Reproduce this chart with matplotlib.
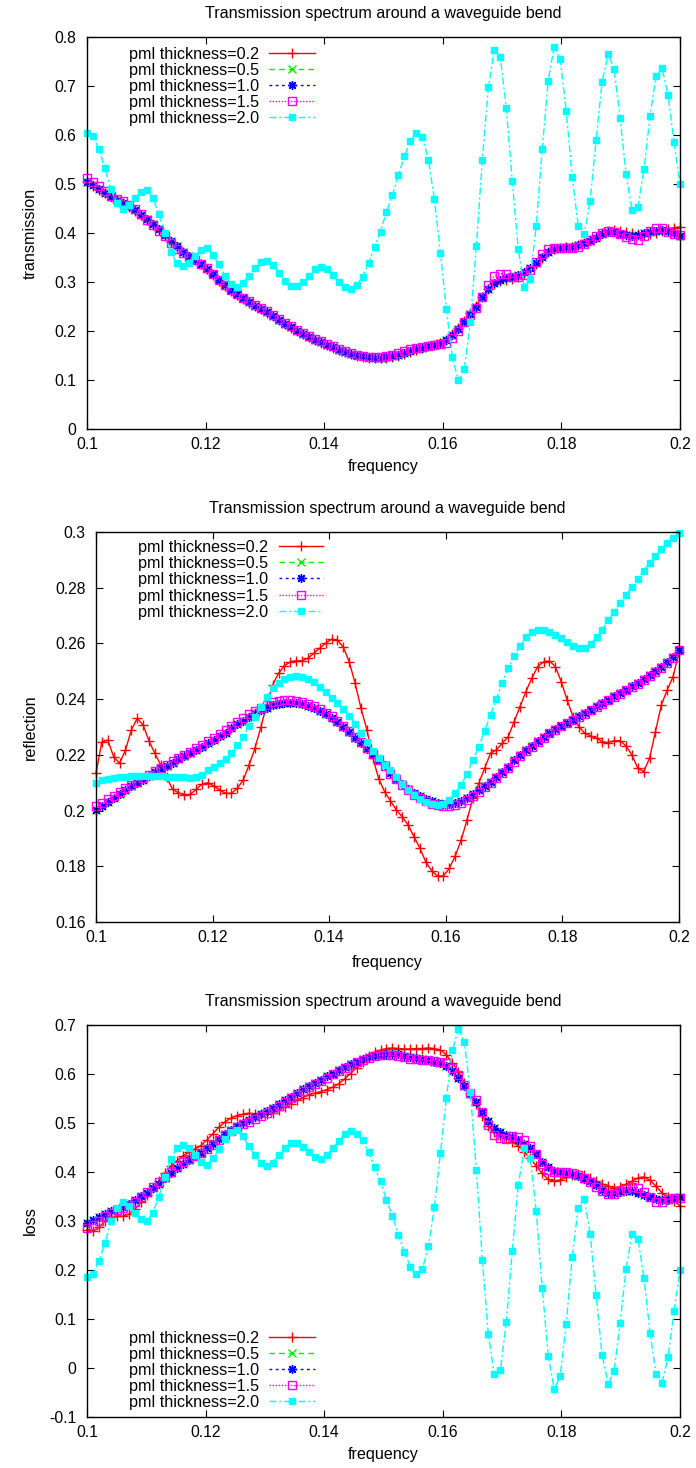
import matplotlib
matplotlib.use("Agg")
import matplotlib.pyplot as plt
import numpy as np
from matplotlib.ticker import FormatStrFormatter, MultipleLocator

plt.rcParams["font.family"] = ["Liberation Sans", "DejaVu Sans"]
plt.rcParams["font.size"] = 11.3

# 100 frequency points from 0.1 to 0.2
freq = np.linspace(0.1, 0.2, 100)

labels = ["pml thickness=0.2", "pml thickness=0.5", "pml thickness=1.0",
          "pml thickness=1.5", "pml thickness=2.0"]

# --- transmission ---
trans_02 = [
    0.505, 0.496, 0.488, 0.481, 0.475, 0.468, 0.461, 0.453, 0.445, 0.436,
    0.427, 0.417, 0.406, 0.394, 0.382, 0.371, 0.361, 0.352, 0.344, 0.336,
    0.326, 0.315, 0.303, 0.292, 0.282, 0.274, 0.266, 0.258, 0.251, 0.244,
    0.237, 0.230, 0.222, 0.214, 0.207, 0.200, 0.193, 0.187, 0.181, 0.176,
    0.171, 0.166, 0.161, 0.157, 0.153, 0.150, 0.147, 0.145, 0.144, 0.144,
    0.145, 0.147, 0.150, 0.154, 0.158, 0.162, 0.166, 0.169, 0.172, 0.175,
    0.182, 0.193, 0.206, 0.221, 0.236, 0.252, 0.270, 0.285, 0.296, 0.302,
    0.305, 0.307, 0.310, 0.316, 0.325, 0.336, 0.350, 0.361, 0.367, 0.370,
    0.371, 0.372, 0.375, 0.379, 0.385, 0.392, 0.399, 0.405, 0.407, 0.405,
    0.402, 0.399, 0.397, 0.396, 0.398, 0.401, 0.405, 0.408, 0.411, 0.412]
trans_10 = [
    0.505, 0.497, 0.489, 0.481, 0.474, 0.468, 0.462, 0.455, 0.447, 0.437,
    0.428, 0.418, 0.408, 0.396, 0.384, 0.373, 0.362, 0.353, 0.345, 0.337,
    0.327, 0.316, 0.304, 0.293, 0.283, 0.275, 0.267, 0.259, 0.252, 0.245,
    0.238, 0.231, 0.223, 0.215, 0.208, 0.201, 0.194, 0.188, 0.182, 0.177,
    0.172, 0.167, 0.162, 0.158, 0.154, 0.151, 0.148, 0.146, 0.145, 0.145,
    0.146, 0.148, 0.151, 0.155, 0.159, 0.163, 0.166, 0.169, 0.172, 0.175,
    0.181, 0.191, 0.204, 0.219, 0.234, 0.250, 0.269, 0.285, 0.298, 0.304,
    0.308, 0.311, 0.315, 0.320, 0.328, 0.338, 0.352, 0.362, 0.368, 0.370,
    0.371, 0.372, 0.375, 0.379, 0.383, 0.390, 0.398, 0.402, 0.402, 0.398,
    0.395, 0.394, 0.396, 0.400, 0.403, 0.405, 0.406, 0.404, 0.399, 0.394]
trans_05 = list(trans_10)  # hidden under the 1.0 curve everywhere
trans_15 = [
    0.513, 0.505, 0.495, 0.485, 0.476, 0.470, 0.465, 0.458, 0.449, 0.438,
    0.427, 0.416, 0.405, 0.393, 0.380, 0.368, 0.359, 0.351, 0.344, 0.337,
    0.328, 0.317, 0.305, 0.294, 0.284, 0.276, 0.268, 0.261, 0.254, 0.247,
    0.240, 0.233, 0.225, 0.217, 0.210, 0.203, 0.196, 0.190, 0.184, 0.179,
    0.174, 0.169, 0.164, 0.160, 0.156, 0.152, 0.149, 0.147, 0.146, 0.146,
    0.148, 0.151, 0.155, 0.159, 0.163, 0.166, 0.168, 0.170, 0.171, 0.173,
    0.176, 0.185, 0.199, 0.218, 0.233, 0.246, 0.270, 0.294, 0.312, 0.317,
    0.317, 0.310, 0.310, 0.314, 0.324, 0.340, 0.358, 0.367, 0.370, 0.370,
    0.369, 0.370, 0.372, 0.377, 0.385, 0.394, 0.400, 0.405, 0.403, 0.397,
    0.392, 0.387, 0.386, 0.393, 0.404, 0.411, 0.411, 0.403, 0.398, 0.396]
trans_20 = [
    0.605, 0.598, 0.571, 0.532, 0.489, 0.461, 0.450, 0.457, 0.471, 0.484,
    0.488, 0.471, 0.438, 0.399, 0.362, 0.338, 0.333, 0.339, 0.353, 0.365,
    0.369, 0.355, 0.336, 0.313, 0.296, 0.289, 0.297, 0.313, 0.329, 0.341,
    0.343, 0.335, 0.319, 0.302, 0.292, 0.292, 0.301, 0.313, 0.326, 0.331,
    0.326, 0.314, 0.301, 0.289, 0.285, 0.294, 0.311, 0.338, 0.371, 0.403,
    0.443, 0.478, 0.518, 0.557, 0.588, 0.605, 0.595, 0.550, 0.469, 0.360,
    0.244, 0.146, 0.099, 0.122, 0.219, 0.373, 0.550, 0.697, 0.773, 0.759,
    0.656, 0.506, 0.367, 0.290, 0.307, 0.415, 0.571, 0.711, 0.780, 0.755,
    0.650, 0.515, 0.415, 0.397, 0.466, 0.590, 0.709, 0.765, 0.735, 0.635,
    0.520, 0.447, 0.454, 0.531, 0.639, 0.720, 0.737, 0.682, 0.586, 0.501]

# --- reflection ---
refl_02 = [
    0.2134, 0.2247, 0.2253, 0.2193, 0.2170, 0.2217, 0.2289, 0.2331, 0.2307, 0.2250,
    0.2205, 0.2164, 0.2120, 0.2076, 0.2064, 0.2056, 0.2058, 0.2076, 0.2095, 0.2100,
    0.2088, 0.2074, 0.2062, 0.2062, 0.2080, 0.2110, 0.2164, 0.2224, 0.2300, 0.2380,
    0.2451, 0.2493, 0.2520, 0.2534, 0.2538, 0.2538, 0.2547, 0.2565, 0.2583, 0.2601,
    0.2615, 0.2612, 0.2586, 0.2534, 0.2457, 0.2367, 0.2290, 0.2190, 0.2115, 0.2068,
    0.2035, 0.2002, 0.1978, 0.1948, 0.1906, 0.1865, 0.1816, 0.1784, 0.1765, 0.1765,
    0.1793, 0.1837, 0.1894, 0.1966, 0.2044, 0.2098, 0.2152, 0.2206, 0.2218, 0.2242,
    0.2265, 0.2319, 0.2373, 0.2427, 0.2475, 0.2517, 0.2534, 0.2537, 0.2517, 0.2463,
    0.2397, 0.2337, 0.2301, 0.2277, 0.2268, 0.2259, 0.2247, 0.2244, 0.2251, 0.2251,
    0.2232, 0.2200, 0.2152, 0.2140, 0.2188, 0.2283, 0.2379, 0.2433, 0.2481, 0.2570]
refl_10 = [
    0.2002, 0.2015, 0.2030, 0.2045, 0.2060, 0.2074, 0.2087, 0.2098, 0.2110, 0.2124,
    0.2138, 0.2150, 0.2161, 0.2172, 0.2184, 0.2195, 0.2206, 0.2218, 0.2230, 0.2241,
    0.2254, 0.2267, 0.2280, 0.2295, 0.2310, 0.2323, 0.2337, 0.2350, 0.2360, 0.2370,
    0.2378, 0.2383, 0.2386, 0.2387, 0.2385, 0.2381, 0.2375, 0.2367, 0.2357, 0.2346,
    0.2333, 0.2318, 0.2300, 0.2281, 0.2262, 0.2242, 0.2222, 0.2202, 0.2182, 0.2162,
    0.2135, 0.2115, 0.2095, 0.2078, 0.2063, 0.2051, 0.2041, 0.2033, 0.2028, 0.2025,
    0.2025, 0.2028, 0.2035, 0.2045, 0.2058, 0.2073, 0.2089, 0.2104, 0.2120, 0.2138,
    0.2158, 0.2180, 0.2200, 0.2217, 0.2233, 0.2248, 0.2265, 0.2280, 0.2294, 0.2305,
    0.2315, 0.2326, 0.2338, 0.2350, 0.2362, 0.2374, 0.2386, 0.2398, 0.2410, 0.2422,
    0.2434, 0.2446, 0.2458, 0.2471, 0.2485, 0.2500, 0.2515, 0.2532, 0.2550, 0.2577]
refl_05 = list(refl_10)
refl_15 = [
    0.2015, 0.2026, 0.2040, 0.2054, 0.2068, 0.2081, 0.2093, 0.2104, 0.2116, 0.2129,
    0.2142, 0.2154, 0.2165, 0.2177, 0.2189, 0.2200, 0.2212, 0.2224, 0.2236, 0.2248,
    0.2261, 0.2274, 0.2288, 0.2303, 0.2318, 0.2332, 0.2346, 0.2359, 0.2370, 0.2380,
    0.2388, 0.2393, 0.2396, 0.2397, 0.2395, 0.2391, 0.2384, 0.2375, 0.2364, 0.2352,
    0.2338, 0.2322, 0.2304, 0.2285, 0.2265, 0.2245, 0.2224, 0.2203, 0.2182, 0.2161,
    0.2133, 0.2112, 0.2091, 0.2073, 0.2057, 0.2044, 0.2033, 0.2025, 0.2019, 0.2016,
    0.2016, 0.2020, 0.2028, 0.2039, 0.2052, 0.2067, 0.2083, 0.2099, 0.2116, 0.2134,
    0.2154, 0.2175, 0.2195, 0.2213, 0.2229, 0.2245, 0.2262, 0.2277, 0.2291, 0.2303,
    0.2313, 0.2324, 0.2336, 0.2348, 0.2360, 0.2372, 0.2384, 0.2396, 0.2408, 0.2420,
    0.2432, 0.2444, 0.2456, 0.2469, 0.2483, 0.2498, 0.2513, 0.2530, 0.2548, 0.2575]
refl_20 = [
    0.2098, 0.2108, 0.2114, 0.2118, 0.2121, 0.2122, 0.2123, 0.2124, 0.2124, 0.2124,
    0.2124, 0.2123, 0.2122, 0.2121, 0.2120, 0.2119, 0.2118, 0.2120, 0.2127, 0.2145,
    0.2158, 0.2170, 0.2185, 0.2205, 0.2235, 0.2265, 0.2305, 0.2337, 0.2373, 0.2409,
    0.2439, 0.2457, 0.2471, 0.2480, 0.2483, 0.2481, 0.2473, 0.2462, 0.2444, 0.2425,
    0.2405, 0.2385, 0.2365, 0.2340, 0.2312, 0.2280, 0.2245, 0.2215, 0.2188, 0.2165,
    0.2145, 0.2120, 0.2096, 0.2074, 0.2055, 0.2040, 0.2030, 0.2024, 0.2021, 0.2024,
    0.2038, 0.2064, 0.2092, 0.2131, 0.2182, 0.2229, 0.2287, 0.2343, 0.2401, 0.2459,
    0.2511, 0.2555, 0.2591, 0.2622, 0.2642, 0.2648, 0.2648, 0.2640, 0.2630, 0.2618,
    0.2604, 0.2592, 0.2584, 0.2584, 0.2598, 0.2622, 0.2650, 0.2683, 0.2714, 0.2744,
    0.2774, 0.2803, 0.2832, 0.2860, 0.2888, 0.2915, 0.2940, 0.2960, 0.2978, 0.2996]

# --- loss ---
loss_02 = [
    0.282, 0.279, 0.287, 0.300, 0.308, 0.310, 0.310, 0.314, 0.324, 0.339,
    0.353, 0.367, 0.382, 0.398, 0.412, 0.423, 0.433, 0.440, 0.447, 0.454,
    0.465, 0.478, 0.491, 0.502, 0.510, 0.515, 0.518, 0.520, 0.519, 0.518,
    0.518, 0.521, 0.526, 0.533, 0.539, 0.546, 0.552, 0.557, 0.561, 0.564,
    0.568, 0.573, 0.580, 0.590, 0.601, 0.613, 0.624, 0.636, 0.645, 0.649,
    0.652, 0.653, 0.652, 0.651, 0.651, 0.652, 0.652, 0.653, 0.652, 0.649,
    0.639, 0.623, 0.605, 0.582, 0.560, 0.538, 0.515, 0.494, 0.482, 0.474,
    0.469, 0.461, 0.453, 0.441, 0.428, 0.412, 0.397, 0.385, 0.381, 0.384,
    0.389, 0.394, 0.395, 0.393, 0.388, 0.382, 0.376, 0.371, 0.368, 0.370,
    0.375, 0.381, 0.388, 0.390, 0.383, 0.371, 0.357, 0.349, 0.341, 0.331]
loss_10 = [
    0.295, 0.302, 0.308, 0.315, 0.320, 0.325, 0.329, 0.335, 0.342, 0.351,
    0.358, 0.367, 0.376, 0.387, 0.398, 0.408, 0.417, 0.425, 0.432, 0.439,
    0.448, 0.457, 0.468, 0.478, 0.486, 0.493, 0.499, 0.506, 0.512, 0.518,
    0.524, 0.531, 0.538, 0.546, 0.554, 0.561, 0.569, 0.575, 0.582, 0.588,
    0.595, 0.601, 0.608, 0.614, 0.620, 0.625, 0.630, 0.634, 0.637, 0.639,
    0.640, 0.640, 0.640, 0.637, 0.635, 0.632, 0.630, 0.628, 0.625, 0.622,
    0.616, 0.606, 0.592, 0.576, 0.560, 0.543, 0.522, 0.505, 0.490, 0.482,
    0.476, 0.471, 0.465, 0.458, 0.449, 0.437, 0.421, 0.410, 0.403, 0.400,
    0.398, 0.395, 0.391, 0.386, 0.381, 0.373, 0.363, 0.358, 0.357, 0.360,
    0.362, 0.361, 0.358, 0.353, 0.349, 0.345, 0.343, 0.343, 0.346, 0.348]
loss_05 = list(loss_10)
loss_15 = [
    0.286, 0.292, 0.301, 0.310, 0.317, 0.322, 0.326, 0.332, 0.339, 0.349,
    0.359, 0.369, 0.379, 0.389, 0.401, 0.412, 0.420, 0.427, 0.432, 0.438,
    0.446, 0.456, 0.466, 0.476, 0.484, 0.491, 0.497, 0.503, 0.509, 0.515,
    0.521, 0.528, 0.535, 0.543, 0.551, 0.558, 0.566, 0.573, 0.580, 0.586,
    0.592, 0.599, 0.606, 0.612, 0.618, 0.624, 0.629, 0.633, 0.636, 0.638,
    0.639, 0.638, 0.636, 0.634, 0.631, 0.630, 0.629, 0.628, 0.627, 0.625,
    0.622, 0.613, 0.598, 0.578, 0.562, 0.547, 0.522, 0.496, 0.476, 0.470,
    0.468, 0.473, 0.471, 0.465, 0.453, 0.436, 0.416, 0.405, 0.401, 0.400,
    0.400, 0.398, 0.394, 0.388, 0.379, 0.369, 0.362, 0.355, 0.356, 0.361,
    0.365, 0.369, 0.368, 0.360, 0.348, 0.339, 0.338, 0.344, 0.347, 0.347]
loss_20 = [
    0.185, 0.191, 0.218, 0.256, 0.299, 0.327, 0.338, 0.331, 0.317, 0.304,
    0.300, 0.317, 0.350, 0.389, 0.426, 0.450, 0.455, 0.449, 0.434, 0.421,
    0.415, 0.428, 0.446, 0.467, 0.481, 0.485, 0.473, 0.453, 0.434, 0.418,
    0.413, 0.419, 0.434, 0.450, 0.460, 0.460, 0.452, 0.441, 0.430, 0.427,
    0.434, 0.448, 0.463, 0.477, 0.484, 0.478, 0.465, 0.441, 0.410, 0.381,
    0.343, 0.310, 0.272, 0.236, 0.207, 0.191, 0.202, 0.248, 0.329, 0.438,
    0.552, 0.648, 0.692, 0.665, 0.563, 0.404, 0.221, 0.069, -0.013, -0.005,
    0.093, 0.239, 0.374, 0.448, 0.429, 0.320, 0.164, 0.025, -0.043, -0.017,
    0.090, 0.226, 0.327, 0.345, 0.274, 0.148, 0.026, -0.033, -0.006, 0.091,
    0.203, 0.273, 0.263, 0.183, 0.072, -0.012, -0.031, 0.022, 0.116, 0.199]

# gnuplot-like styles: colour, dash, marker, marker size, filled
styles = [
    ("#ff0000", "-", "+", 7.0, True),
    ("#00ee00", (0, (4, 3)), "x", 5.5, True),
    ("#0000ff", (0, (2, 2.5)), (8, 2, 0), 6.5, True),
    ("#ff00ff", (0, (1, 1.2)), "s", 5.2, False),
    ("#00ffff", (0, (5, 2, 1.5, 2)), "s", 5.0, True),
]

W, H = 696, 1468


def px_axes(fig, x0, y0, x1, y1):
    return fig.add_axes([x0 / W, 1 - y1 / H, (x1 - x0) / W, (y1 - y0) / H])


def gp_key(ax, y_top, dy, text_x, s0, s1):
    for k, (lab, (c, ls, mk, ms, filled)) in enumerate(zip(labels, styles)):
        y = y_top - k * dy
        ax.text(text_x, y, lab, transform=ax.transAxes, ha="right",
                va="center_baseline", fontsize=11.6)
        ax.plot([s0, s1], [y, y], transform=ax.transAxes, color=c, ls=ls,
                lw=1.0, clip_on=False)
        ax.plot([(s0 + s1) / 2], [y], transform=ax.transAxes, color=c,
                ls="none", marker=mk, ms=ms, mew=1.0,
                mfc=c if filled else "none", mec=c, clip_on=False)


def panel(ax, series, ylim, ystep, ylabel, key):
    for y, (c, ls, mk, ms, filled) in zip(series, styles):
        ax.plot(freq, y, color=c, ls=ls, lw=1.0, marker=mk, ms=ms, mew=1.0,
                mfc=c if filled else "none", mec=c, clip_on=False)
    ax.set_xlim(0.1, 0.2)
    ax.set_ylim(*ylim)
    ax.xaxis.set_major_locator(MultipleLocator(0.02))
    ax.yaxis.set_major_locator(MultipleLocator(ystep))
    ax.xaxis.set_major_formatter(FormatStrFormatter("%g"))
    ax.yaxis.set_major_formatter(FormatStrFormatter("%g"))
    ax.tick_params(direction="in", length=5, width=0.8, top=True, right=True,
                   labelsize=11.3)
    ax.tick_params(axis="x", pad=6)
    ax.tick_params(axis="y", pad=7.5)
    for s in ax.spines.values():
        s.set_linewidth(1.0)
    ax.set_title("Transmission spectrum around a waveguide bend",
                 fontsize=11.6, pad=14)
    ax.set_xlabel("frequency", va="center", fontsize=11.6)
    ax.set_ylabel(ylabel, va="center", fontsize=11.6)
    gp_key(ax, *key)


fig = plt.figure(figsize=(W / 100, H / 100), dpi=100)

ax1 = px_axes(fig, 87, 37, 680, 429)
panel(ax1, [trans_02, trans_05, trans_10, trans_15, trans_20], (0, 0.8), 0.1,
      "transmission", (0.958, 0.0408, 0.2906, 0.307, 0.3845))
ax1.xaxis.set_label_coords(0.5, -37 / 392)
ax1.yaxis.set_label_coords(-57 / 593, 0.5)

ax2 = px_axes(fig, 96, 532, 679, 922)
panel(ax2, [refl_02, refl_05, refl_10, refl_15, refl_20], (0.16, 0.3), 0.02,
      "reflection", (0.964, 0.0415, 0.2954, 0.3142, 0.3897))
ax2.xaxis.set_label_coords(0.5, -41 / 390)
ax2.yaxis.set_label_coords(-66 / 583, 0.5)

ax3 = px_axes(fig, 87, 1025, 680, 1417)
panel(ax3, [loss_02, loss_05, loss_10, loss_15, loss_20], (-0.1, 0.7), 0.1,
      "loss", (0.2033, 0.0408, 0.2906, 0.307, 0.3845))
ax3.xaxis.set_label_coords(0.5, -38 / 392)
ax3.yaxis.set_label_coords(-57 / 593, 0.5)

fig.savefig("out.png", dpi=100)
plt.close(fig)
